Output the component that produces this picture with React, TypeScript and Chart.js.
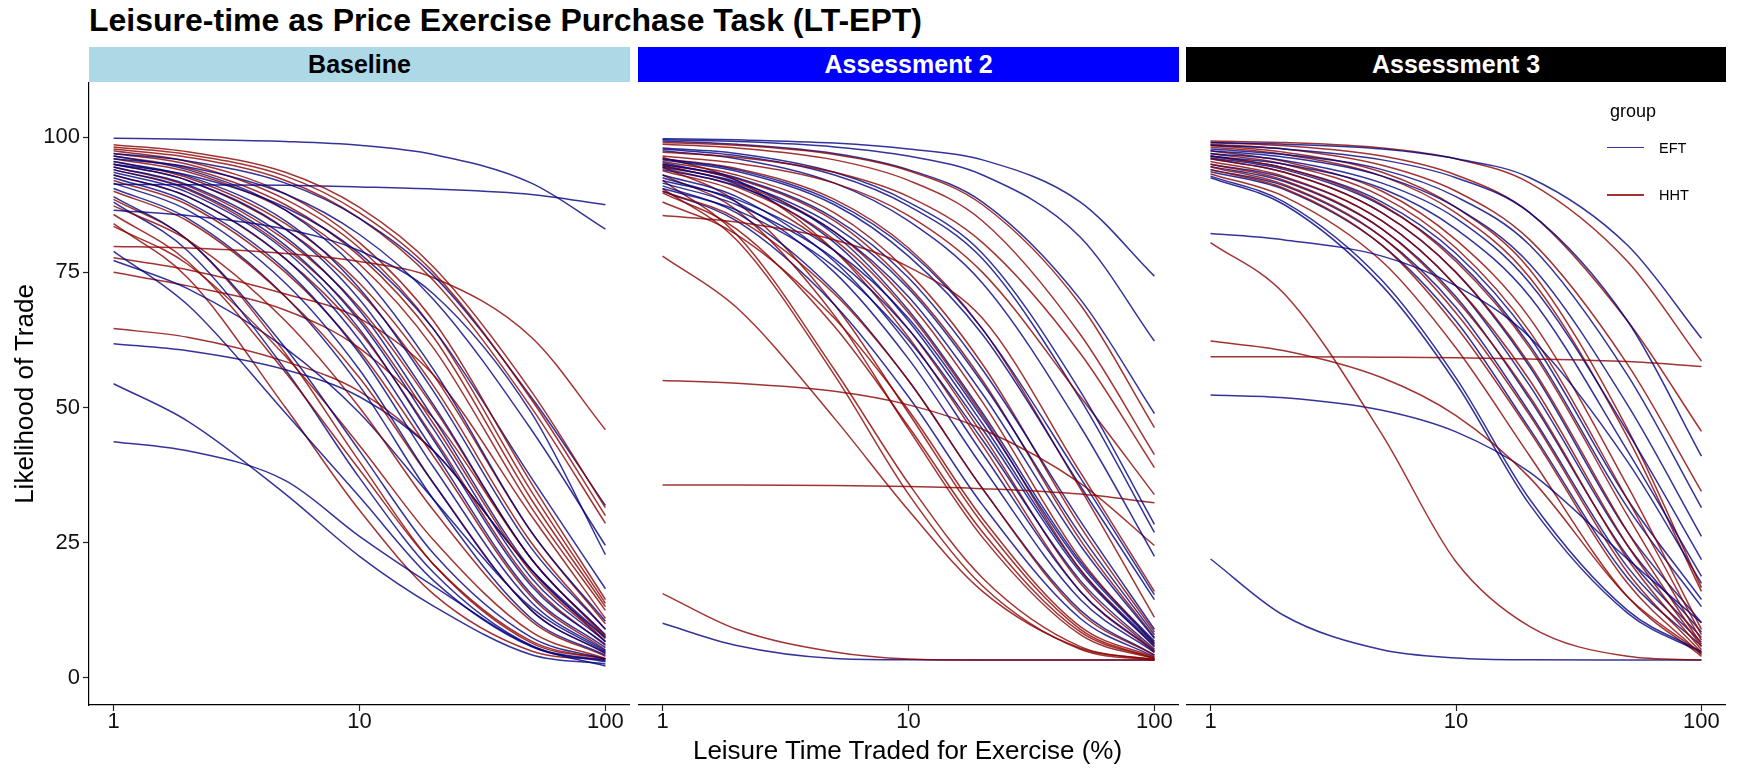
import { useEffect, useRef } from 'react';
import { Chart, registerables } from 'chart.js';

Chart.register(...registerables);

// Prices (% of leisure time) at which each fitted curve is sampled
const X_POINTS = [1, 2, 5, 10, 20, 50, 100];
const X_TICKS = [1, 10, 100];
const Y_TICKS = [0, 25, 50, 75, 100];
const PANEL_TITLES = ['Baseline', 'Assessment 2', 'Assessment 3'];
const GROUP_LABELS = ['EFT', 'HHT'];

// Baseline — one row per participant, values at X_POINTS
const baselineEFT = [
  [99.8, 99.6, 99.2, 98.5, 96.8, 91.5, 83.0],
  [91.3, 91.2, 91.1, 90.8, 90.4, 89.4, 87.5],
  [97.0, 95.6, 91.5, 85.0, 74.4, 51.9, 31.9],
  [96.0, 94.5, 89.5, 82.0, 70.0, 45.9, 24.5],
  [86.5, 85.5, 83.0, 79.0, 71.0, 49.0, 22.8],
  [95.0, 93.0, 87.0, 78.5, 64.5, 37.0, 16.5],
  [96.5, 94.0, 86.5, 75.0, 57.0, 27.0, 10.5],
  [95.5, 92.8, 84.5, 72.0, 53.0, 24.0, 9.0],
  [95.0, 92.0, 83.0, 70.0, 50.5, 22.0, 8.0],
  [94.5, 91.2, 81.5, 68.0, 48.0, 20.0, 7.3],
  [94.0, 90.5, 80.0, 66.0, 46.0, 18.5, 6.7],
  [93.5, 89.8, 79.0, 64.5, 44.0, 17.0, 6.2],
  [93.0, 89.0, 77.5, 62.5, 42.0, 15.5, 5.6],
  [92.5, 88.0, 75.5, 60.0, 39.0, 14.0, 5.0],
  [91.5, 86.5, 73.0, 57.0, 36.0, 12.5, 4.6],
  [90.5, 85.0, 70.5, 54.0, 33.0, 11.0, 4.2],
  [89.0, 81.0, 61.0, 42.0, 23.0, 7.5, 3.5],
  [88.0, 79.0, 57.0, 37.0, 19.5, 6.0, 3.2],
  [78.9, 69.0, 49.0, 33.5, 18.0, 5.8, 3.0],
  [77.2, 72.0, 61.0, 49.0, 33.0, 13.0, 4.8],
  [61.8, 60.5, 57.0, 52.0, 42.0, 20.0, 7.5],
  [54.4, 47.5, 34.0, 22.5, 13.3, 4.3, 2.6],
  [43.7, 42.0, 36.5, 26.2, 17.0, 5.9, 2.2],
];
const baselineHHT = [
  [98.6, 97.3, 93.5, 87.0, 76.0, 53.0, 31.5],
  [98.2, 96.8, 92.8, 86.0, 75.0, 51.5, 30.0],
  [97.8, 96.3, 92.0, 85.0, 73.5, 50.0, 28.6],
  [79.8, 79.5, 78.5, 77.0, 74.0, 63.0, 45.9],
  [97.5, 95.5, 89.5, 80.5, 66.0, 36.0, 14.5],
  [97.0, 95.0, 88.5, 79.5, 64.5, 34.5, 13.8],
  [96.5, 94.3, 87.5, 78.0, 63.0, 33.0, 13.2],
  [96.0, 93.6, 86.5, 76.5, 61.0, 31.5, 12.5],
  [95.5, 92.5, 84.0, 73.0, 56.0, 27.0, 10.0],
  [95.0, 92.0, 83.0, 71.5, 54.0, 25.0, 9.0],
  [94.5, 91.0, 81.0, 68.5, 50.0, 22.0, 7.8],
  [94.0, 90.3, 79.5, 66.5, 47.0, 19.5, 6.8],
  [93.0, 89.0, 77.5, 64.0, 44.5, 17.5, 6.0],
  [92.0, 87.5, 75.0, 60.5, 41.0, 15.0, 5.2],
  [90.0, 84.5, 70.5, 55.5, 36.0, 12.5, 4.5],
  [87.3, 81.0, 66.0, 50.0, 31.0, 10.5, 4.0],
  [85.7, 77.0, 56.5, 38.5, 21.0, 6.8, 3.5],
  [83.5, 76.5, 59.5, 43.0, 25.5, 8.5, 3.6],
  [77.7, 75.5, 71.0, 66.5, 56.0, 30.0, 11.0],
  [75.0, 72.5, 68.0, 61.0, 48.0, 22.0, 7.5],
  [64.6, 63.0, 58.5, 53.0, 42.0, 20.0, 6.7],
  [88.5, 81.0, 60.0, 40.0, 21.0, 6.5, 3.5],
  [84.0, 74.0, 50.0, 31.0, 15.5, 5.0, 3.3],
];

// Assessment 2
const assess2EFT = [
  [99.7, 99.5, 98.9, 97.8, 95.8, 88.0, 74.3],
  [99.5, 99.2, 98.2, 96.5, 93.0, 81.5, 62.3],
  [99.3, 98.7, 97.0, 94.0, 88.0, 70.0, 48.9],
  [98.0, 97.0, 93.5, 88.0, 78.5, 53.0, 28.4],
  [97.8, 96.6, 93.0, 87.3, 77.5, 51.5, 26.9],
  [97.5, 96.0, 91.5, 84.5, 73.0, 46.5, 22.5],
  [96.0, 94.0, 88.0, 79.0, 64.5, 37.0, 15.4],
  [95.8, 93.7, 87.5, 78.0, 63.5, 35.5, 14.5],
  [95.0, 92.5, 85.0, 74.0, 57.0, 29.0, 9.0],
  [94.5, 91.7, 83.5, 72.0, 54.5, 26.5, 8.0],
  [94.0, 91.0, 82.5, 70.5, 52.5, 24.5, 7.3],
  [92.0, 88.5, 79.0, 66.5, 48.0, 21.0, 6.5],
  [91.5, 87.5, 77.5, 64.5, 46.0, 19.5, 5.9],
  [90.5, 86.5, 76.0, 62.5, 44.0, 18.0, 5.3],
  [95.3, 92.0, 82.0, 68.0, 49.0, 21.5, 6.8],
  [94.8, 91.3, 80.5, 66.0, 47.0, 20.0, 6.2],
  [93.0, 89.0, 77.0, 61.5, 41.5, 16.0, 5.0],
  [92.5, 88.0, 75.0, 59.0, 39.0, 14.5, 4.7],
  [91.0, 86.0, 71.5, 55.0, 35.0, 12.5, 4.2],
  [90.0, 84.5, 69.0, 52.0, 32.0, 11.0, 3.9],
  [10.1, 6.0, 3.6, 3.35, 3.3, 3.3, 3.3],
];
const assess2HHT = [
  [99.0, 98.5, 96.8, 93.8, 87.5, 69.0, 46.3],
  [98.7, 98.0, 95.8, 92.0, 84.5, 63.5, 41.3],
  [97.2, 96.3, 93.5, 89.0, 80.5, 60.0, 38.9],
  [96.5, 95.2, 91.5, 85.5, 75.0, 52.0, 33.9],
  [35.7, 35.7, 35.6, 35.4, 35.0, 34.0, 32.4],
  [55.0, 54.5, 53.0, 50.5, 46.0, 36.0, 24.5],
  [85.5, 84.3, 81.0, 76.0, 66.5, 38.0, 16.0],
  [78.0, 68.5, 48.0, 31.0, 16.0, 5.5, 3.4],
  [15.6, 9.0, 4.8, 3.5, 3.3, 3.3, 3.3],
  [96.0, 94.2, 88.5, 79.5, 64.5, 35.0, 11.2],
  [95.5, 93.0, 86.0, 75.0, 58.0, 28.0, 8.5],
  [95.0, 92.3, 84.5, 72.5, 55.0, 25.5, 7.5],
  [94.7, 91.5, 82.5, 69.5, 51.0, 22.0, 6.3],
  [94.3, 90.8, 81.0, 67.5, 48.5, 20.0, 5.7],
  [93.8, 90.0, 79.0, 64.5, 45.0, 17.5, 5.0],
  [90.0, 85.0, 71.0, 55.0, 35.0, 12.0, 4.2],
  [88.0, 82.0, 66.5, 49.5, 29.5, 9.5, 3.8],
  [89.7, 83.0, 65.0, 46.5, 27.0, 8.5, 3.6],
  [93.0, 86.5, 67.0, 46.0, 26.0, 8.0, 3.5],
  [94.5, 88.0, 69.0, 49.0, 28.5, 9.0, 3.6],
  [92.0, 82.0, 57.0, 36.0, 18.5, 5.8, 3.4],
  [96.3, 92.0, 79.0, 63.0, 43.0, 16.0, 4.8],
  [90.5, 81.0, 56.0, 34.0, 17.0, 5.3, 3.3],
];

// Assessment 3
const assess3EFT = [
  [99.0, 98.7, 97.8, 96.0, 92.5, 80.0, 62.8],
  [98.5, 97.8, 95.8, 92.5, 86.0, 66.0, 41.0],
  [97.8, 96.8, 94.0, 89.0, 80.0, 56.0, 31.5],
  [97.5, 96.3, 92.8, 87.0, 76.5, 50.5, 26.2],
  [97.0, 95.7, 91.5, 85.0, 73.0, 45.5, 21.9],
  [96.5, 95.0, 90.5, 83.0, 70.5, 42.0, 18.8],
  [82.2, 81.0, 78.0, 72.5, 63.0, 40.0, 17.5],
  [52.3, 51.8, 49.5, 45.5, 38.0, 22.0, 10.2],
  [22.0, 11.5, 5.2, 3.7, 3.35, 3.3, 3.3],
  [92.5, 87.5, 72.5, 54.5, 32.0, 12.0, 4.7],
  [92.8, 88.0, 73.5, 55.5, 33.0, 12.5, 4.9],
  [96.0, 93.5, 86.0, 75.0, 57.5, 27.0, 10.2],
  [96.5, 94.3, 88.0, 78.5, 63.0, 33.0, 14.5],
  [96.2, 94.0, 87.3, 77.5, 61.5, 31.5, 13.2],
  [95.0, 92.5, 84.5, 72.5, 54.0, 24.5, 8.5],
  [94.6, 91.8, 83.0, 70.5, 51.5, 22.5, 7.5],
  [94.0, 91.0, 81.5, 68.5, 49.0, 20.5, 6.6],
  [93.6, 90.3, 80.0, 66.0, 46.0, 18.5, 5.9],
];
const assess3HHT = [
  [99.3, 99.0, 98.0, 96.0, 91.5, 77.0, 58.6],
  [59.4, 59.4, 59.3, 59.2, 59.0, 58.5, 57.6],
  [98.7, 97.8, 94.8, 90.0, 81.0, 58.0, 34.5],
  [80.5, 71.0, 45.0, 21.5, 9.5, 4.0, 3.3],
  [62.3, 60.5, 55.5, 48.5, 37.0, 15.0, 4.5],
  [98.5, 97.2, 93.5, 87.0, 75.5, 46.0, 16.7],
  [98.2, 96.8, 92.8, 86.0, 74.0, 44.5, 16.0],
  [97.5, 95.5, 90.0, 81.0, 66.5, 35.5, 9.0],
  [97.0, 95.0, 89.0, 79.5, 64.0, 33.0, 8.0],
  [96.5, 94.3, 87.5, 77.0, 61.0, 30.0, 7.0],
  [96.0, 93.5, 86.0, 75.0, 58.0, 27.0, 6.2],
  [95.5, 92.7, 84.5, 72.5, 55.0, 24.5, 5.8],
  [95.0, 92.0, 83.0, 70.0, 52.0, 22.0, 5.2],
  [94.5, 91.2, 81.5, 67.5, 48.5, 19.5, 4.7],
  [94.0, 90.5, 80.0, 65.0, 45.5, 17.5, 4.3],
  [93.2, 89.0, 77.0, 61.0, 41.0, 15.0, 4.0],
  [99.0, 98.4, 96.5, 93.0, 86.0, 66.0, 45.6],
];

const FONT = '"Liberation Sans", Arial, Helvetica, sans-serif';
const EFT_COLOR = 'rgba(0, 0, 128, 0.8)';
const HHT_COLOR = 'rgba(139, 0, 0, 0.8)';
const STRIP_BG = ['#ADD8E6', '#0000FF', '#000000'];
const STRIP_FG = ['#000000', '#FFFFFF', '#FFFFFF'];

// Layout (px)
const PANEL_TOP = 82;
const PLOT_BOTTOM = 705;
const CANVAS_H = 768 - PANEL_TOP;
const PANELS = [
  { left: 89, right: 630 },
  { left: 638, right: 1179 },
  { left: 1186, right: 1726 },
];
const Y_MIN = -5.0;
const Y_MAX = 110.2;
const X_MIN = Math.pow(10, -0.1);
const X_MAX = Math.pow(10, 2.1);

function toSeries(values: number[], color: string) {
  return {
    data: values.map((v, i) => ({ x: X_POINTS[i], y: v })),
    borderColor: color,
    borderWidth: 1.5,
    pointRadius: 0,
    fill: false,
    cubicInterpolationMode: 'monotone' as const,
  };
}

type PanelProps = {
  eft: number[][];
  hht: number[][];
  showY: boolean;
  canvasLeft: number;
  canvasWidth: number;
  yAxisWidth: number;
};

function Panel({ eft, hht, showY, canvasLeft, canvasWidth, yAxisWidth }: PanelProps) {
  const ref = useRef<HTMLCanvasElement | null>(null);

  useEffect(() => {
    if (!ref.current) return;
    const datasets: any[] = [];
    const n = Math.max(eft.length, hht.length);
    for (let i = 0; i < n; i++) {
      if (i < eft.length) datasets.push(toSeries(eft[i], EFT_COLOR));
      if (i < hht.length) datasets.push(toSeries(hht[i], HHT_COLOR));
    }
    const tickFont = { family: FONT, size: 22, lineHeight: 1 };
    const chart = new Chart(ref.current, {
      type: 'line',
      data: { datasets },
      options: {
        responsive: false,
        animation: false,
        events: [],
        layout: { padding: 0 },
        plugins: { legend: { display: false }, tooltip: { enabled: false } },
        scales: {
          x: {
            type: 'logarithmic',
            min: X_MIN,
            max: X_MAX,
            afterBuildTicks: (s: any) => {
              s.ticks = X_TICKS.map((v) => ({ value: v }));
            },
            afterFit: (s: any) => {
              s.height = CANVAS_H - (PLOT_BOTTOM - PANEL_TOP);
              s.paddingLeft = 0;
              s.paddingRight = 0;
            },
            ticks: {
              callback: (v: any) => String(v),
              font: tickFont,
              color: '#111',
              padding: 0,
              autoSkip: false,
              maxRotation: 0,
            },
            grid: {
              drawOnChartArea: false,
              drawTicks: true,
              tickLength: 6,
              tickColor: '#222',
              tickWidth: 1.2,
            },
            border: { display: true, color: '#000', width: 1.2 },
          },
          y: {
            type: 'linear',
            display: showY,
            min: Y_MIN,
            max: Y_MAX,
            afterBuildTicks: (s: any) => {
              s.ticks = Y_TICKS.map((v) => ({ value: v }));
            },
            afterFit: (s: any) => {
              s.width = yAxisWidth;
              s.paddingTop = 0;
              s.paddingBottom = 0;
            },
            ticks: {
              callback: (v: any) => String(v),
              font: tickFont,
              color: '#111',
              padding: 3,
            },
            grid: {
              drawOnChartArea: false,
              drawTicks: true,
              tickLength: 6,
              tickColor: '#222',
              tickWidth: 1.2,
            },
            border: { display: true, color: '#000', width: 1.2 },
          },
        },
      } as any,
    });
    return () => chart.destroy();
  }, [eft, hht, showY, yAxisWidth]);

  return (
    <canvas
      ref={ref}
      width={canvasWidth}
      height={CANVAS_H}
      style={{ position: 'absolute', left: canvasLeft, top: PANEL_TOP, width: canvasWidth, height: CANVAS_H }}
    />
  );
}

export default function App() {
  const series = [
    [baselineEFT, baselineHHT],
    [assess2EFT, assess2HHT],
    [assess3EFT, assess3HHT],
  ];
  const plotCenterX = (PANELS[0].left + PANELS[2].right) / 2;
  const plotCenterY = (PANEL_TOP + PLOT_BOTTOM) / 2;

  return (
    <div
      style={{
        position: 'absolute',
        left: 0,
        top: 0,
        width: 1739,
        height: 768,
        background: '#fff',
        fontFamily: FONT,
        overflow: 'hidden',
      }}
    >
      <div
        style={{
          position: 'absolute',
          left: 89,
          top: 4,
          fontSize: 32,
          lineHeight: '32px',
          fontWeight: 'bold',
          whiteSpace: 'nowrap',
          color: '#000',
        }}
      >
        Leisure-time as Price Exercise Purchase Task (LT-EPT)
      </div>

      {PANELS.map((p, i) => (
        <div
          key={'strip' + i}
          style={{
            position: 'absolute',
            left: p.left,
            top: 47,
            width: p.right - p.left,
            height: 35,
            background: STRIP_BG[i],
            color: STRIP_FG[i],
            fontSize: 25,
            fontWeight: 'bold',
            display: 'flex',
            alignItems: 'center',
            justifyContent: 'center',
            lineHeight: '35px',
          }}
        >
          {PANEL_TITLES[i]}
        </div>
      ))}

      {PANELS.map((p, i) => {
        const canvasLeft = i === 0 ? 0 : p.left;
        return (
          <Panel
            key={'panel' + i}
            eft={series[i][0]}
            hht={series[i][1]}
            showY={i === 0}
            canvasLeft={canvasLeft}
            canvasWidth={p.right - canvasLeft}
            yAxisWidth={i === 0 ? p.left : 0}
          />
        );
      })}

      <div
        style={{
          position: 'absolute',
          left: 24 - 250,
          top: plotCenterY - 16,
          width: 500,
          height: 32,
          lineHeight: '32px',
          fontSize: 26,
          textAlign: 'center',
          transform: 'rotate(-90deg)',
          color: '#000',
          whiteSpace: 'nowrap',
        }}
      >
        Likelihood of Trade
      </div>

      <div
        style={{
          position: 'absolute',
          left: plotCenterX - 400,
          top: 750 - 16,
          width: 800,
          height: 32,
          lineHeight: '32px',
          fontSize: 26,
          textAlign: 'center',
          color: '#000',
          whiteSpace: 'nowrap',
        }}
      >
        Leisure Time Traded for Exercise (%)
      </div>

      {/* group legend inside the last panel */}
      <div
        style={{
          position: 'absolute',
          left: 1610,
          top: 100,
          fontSize: 18,
          lineHeight: '22px',
          color: '#000',
          whiteSpace: 'nowrap',
        }}
      >
        group
      </div>
      {GROUP_LABELS.map((g, i) => (
        <div key={g}>
          <div
            style={{
              position: 'absolute',
              left: 1607,
              top: (i === 0 ? 147.5 : 195) - 0.75,
              width: 37,
              height: 1.5,
              background: i === 0 ? EFT_COLOR : HHT_COLOR,
            }}
          />
          <div
            style={{
              position: 'absolute',
              left: 1659,
              top: (i === 0 ? 147.5 : 195) - 9,
              fontSize: 14.5,
              lineHeight: '18px',
              color: '#000',
              whiteSpace: 'nowrap',
            }}
          >
            {g}
          </div>
        </div>
      ))}
    </div>
  );
}
